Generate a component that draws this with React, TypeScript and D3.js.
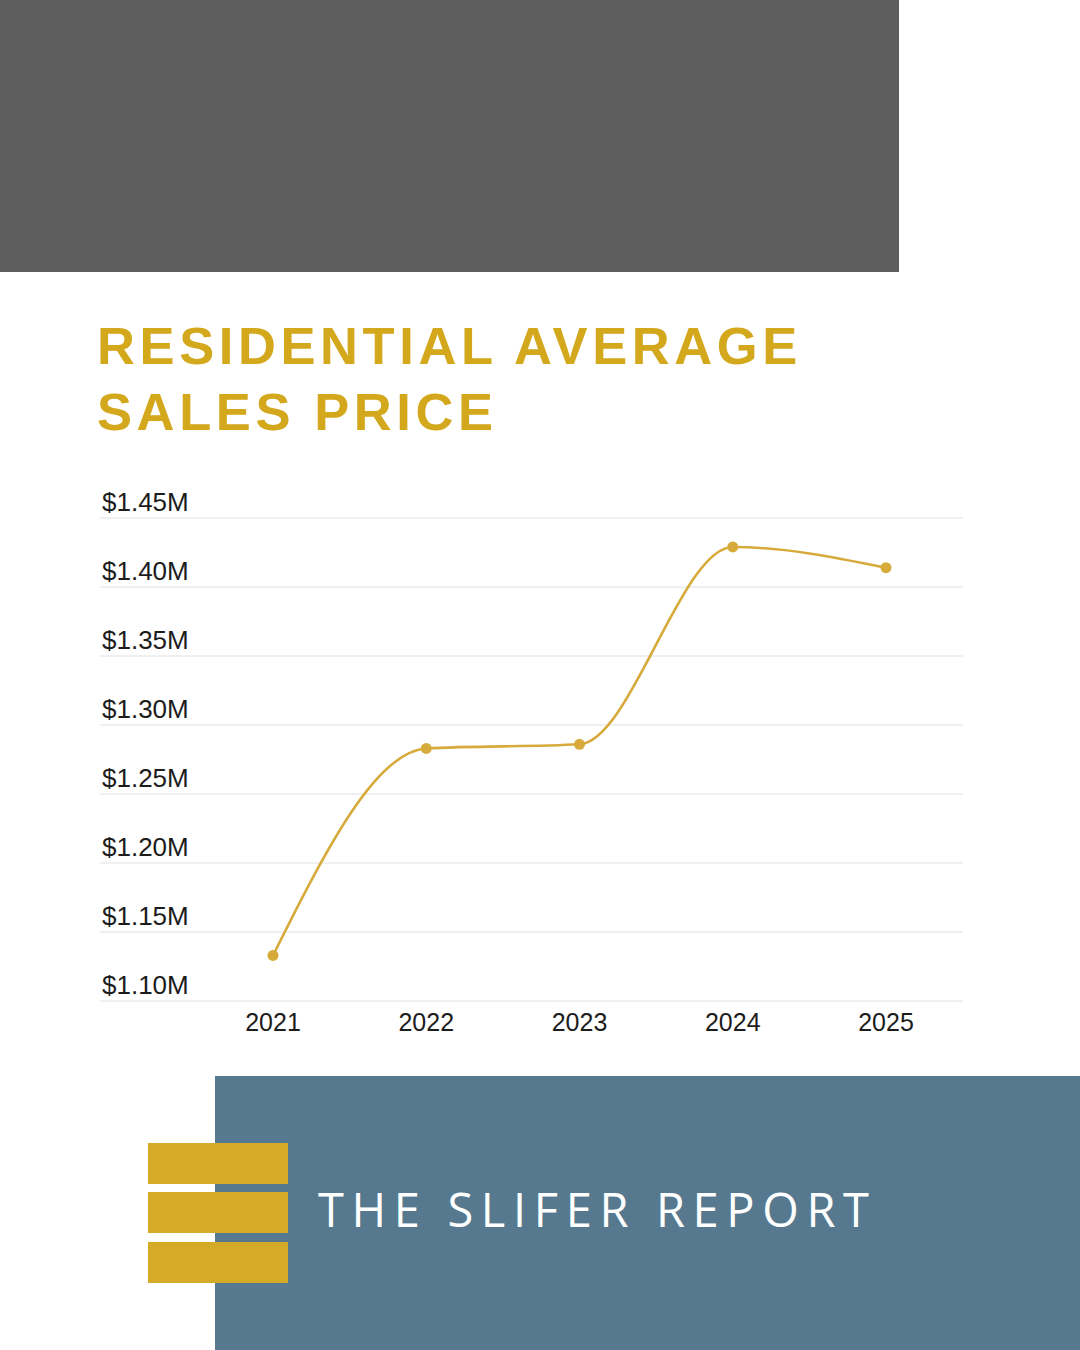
import { useEffect, useRef } from "react";
import * as d3 from "d3";

// average residential sales price, millions of dollars
const years = ["2021", "2022", "2023", "2024", "2025"];
const avgPrice = [1.133, 1.283, 1.286, 1.429, 1.414];
const priceTicks = [1.1, 1.15, 1.2, 1.25, 1.3, 1.35, 1.4, 1.45];
const titleLines = ["RESIDENTIAL AVERAGE", "SALES PRICE"];

const GOLD = "#d4a81c";
const LINE_GOLD = "#d6ab3c";

export default function App() {
  const chartRef = useRef<SVGSVGElement | null>(null);

  useEffect(() => {
    const width = 1080;
    const height = 1350;
    const svg = d3.select(chartRef.current);
    svg.selectAll("*").remove();

    svg.append("rect").attr("width", width).attr("height", height).attr("fill", "#ffffff");

    // top grey banner
    svg.append("rect").attr("x", 0).attr("y", 0).attr("width", 899).attr("height", 272).attr("fill", "#5e5e5e");

    // title
    svg
      .append("g")
      .selectAll("text")
      .data(titleLines)
      .enter()
      .append("text")
      .attr("x", 97)
      .attr("y", (_, i) => 363.5 + i * 66)
      .attr("fill", GOLD)
      .attr("letter-spacing", 4.6)
      .attr("font-family", "'Liberation Sans', Arial, sans-serif")
      .attr("font-weight", 700)
      .attr("font-size", 52.5)
      .text((d) => d);

    // chart
    const x = d3.scalePoint().domain(years).range([273, 886]);
    const y = d3.scaleLinear().domain([1.1, 1.45]).range([1001, 518]);
    const gridLeft = 100;
    const gridRight = 963;

    const grid = svg.append("g");
    grid
      .selectAll("line")
      .data(priceTicks)
      .enter()
      .append("line")
      .attr("x1", gridLeft)
      .attr("x2", gridRight)
      .attr("y1", (d) => y(d))
      .attr("y2", (d) => y(d))
      .attr("stroke", "#e2e2e2")
      .attr("stroke-width", 1.2);

    grid
      .selectAll("text")
      .data(priceTicks)
      .enter()
      .append("text")
      .attr("x", 102)
      .attr("y", (d) => y(d) - 7)
      .attr("fill", "#1c1c1c")
      .attr("font-family", "'Liberation Sans', Arial, sans-serif")
      .attr("font-size", 26)
      .text((d) => `$${d.toFixed(2)}M`);

    svg
      .append("g")
      .selectAll("text")
      .data(years)
      .enter()
      .append("text")
      .attr("x", (d) => x(d) as number)
      .attr("y", 1031)
      .attr("text-anchor", "middle")
      .attr("fill", "#1c1c1c")
      .attr("font-family", "'Liberation Sans', Arial, sans-serif")
      .attr("font-size", 25)
      .text((d) => d);

    const line = d3
      .line<number>()
      .x((_, i) => x(years[i]) as number)
      .y((d) => y(d))
      .curve(d3.curveMonotoneX);

    svg
      .append("path")
      .datum(avgPrice)
      .attr("d", line)
      .attr("fill", "none")
      .attr("stroke", LINE_GOLD)
      .attr("stroke-width", 2.6);

    svg
      .append("g")
      .selectAll("circle")
      .data(avgPrice)
      .enter()
      .append("circle")
      .attr("cx", (_, i) => x(years[i]) as number)
      .attr("cy", (d) => y(d))
      .attr("r", 5.5)
      .attr("fill", LINE_GOLD);

    // footer block with logo bars
    svg.append("rect").attr("x", 215).attr("y", 1076).attr("width", width - 215).attr("height", height - 1076).attr("fill", "#56798f");

    svg
      .append("g")
      .selectAll("rect")
      .data([1143, 1192, 1242])
      .enter()
      .append("rect")
      .attr("x", 148)
      .attr("y", (d) => d)
      .attr("width", 140)
      .attr("height", 41)
      .attr("fill", "#d4aa26");

    svg
      .append("text")
      .attr("x", 318)
      .attr("y", 1227)
      .attr("fill", "#ffffff")
      .attr("font-family", "'Open Sans', 'Noto Sans', sans-serif")
      .attr("font-weight", 400)
      .attr("font-size", 47)
      .attr("textLength", 551)
      .attr("lengthAdjust", "spacing")
      .text("THE SLIFER REPORT");
  }, []);

  return (
    <svg
      ref={chartRef}
      width={1080}
      height={1350}
      style={{ position: "absolute", left: 0, top: 0, display: "block" }}
    />
  );
}
